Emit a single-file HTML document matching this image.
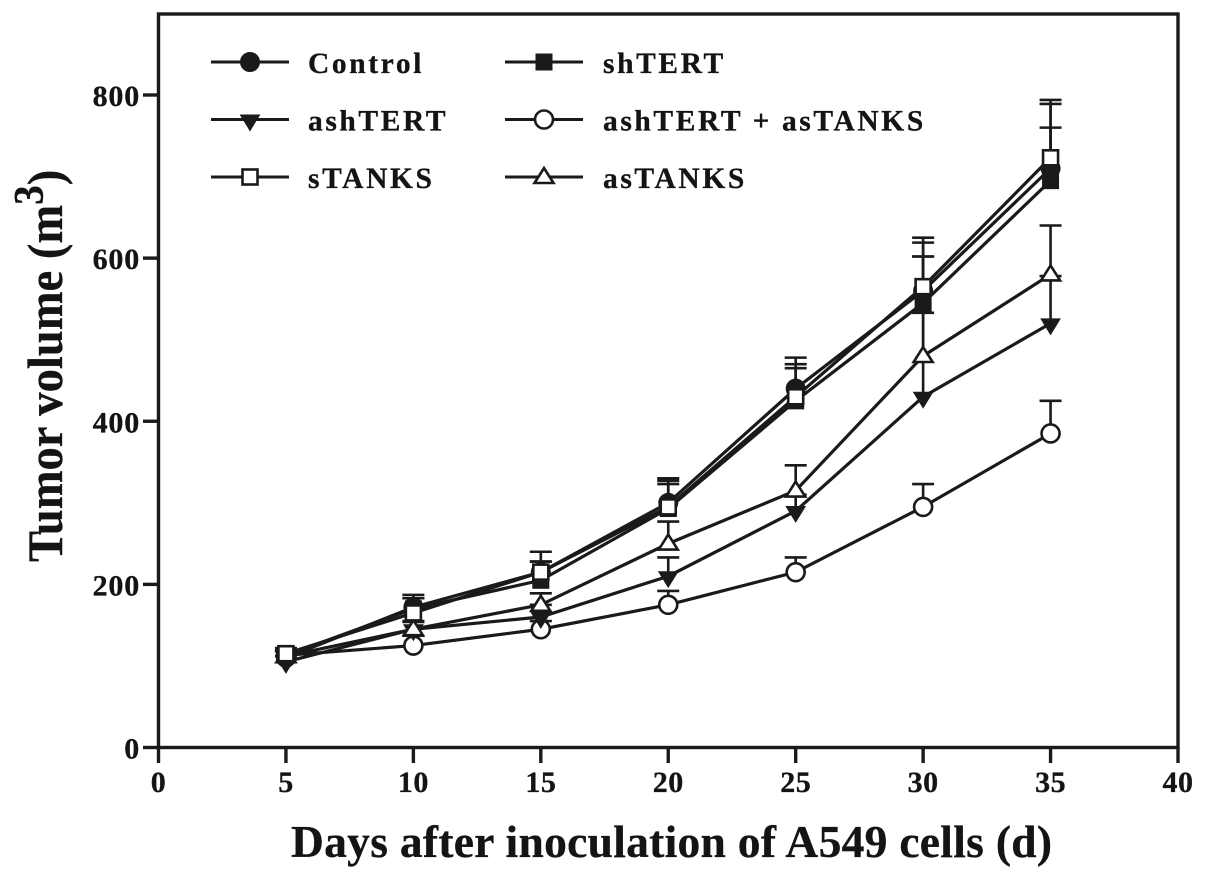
<!DOCTYPE html>
<html>
<head>
<meta charset="utf-8">
<title>Tumor volume chart</title>
<style>
html,body{margin:0;padding:0;background:#fff;}
svg{display:block;}
text{font-family:"Liberation Serif",serif;font-weight:bold;fill:#141414;stroke:#141414;stroke-width:0.3px;}
</style>
</head>
<body>
<svg id="chart" width="1205" height="879" viewBox="0 0 1205 879" xmlns="http://www.w3.org/2000/svg">
  <text transform="translate(62,562) rotate(-90) scale(0.932,1)" font-size="50">Tumor volume (m<tspan font-size="42" dy="-19">3</tspan><tspan dy="19">)</tspan></text>
  <text x="291" y="857" font-size="45.5" textLength="761" lengthAdjust="spacing">Days after inoculation of A549 cells (d)</text>
</svg>
<script>
const days = [5, 10, 15, 20, 25, 30, 35];
const xTicks = [0, 5, 10, 15, 20, 25, 30, 35, 40];
const yTicks = [0, 200, 400, 600, 800];

const controlValues = [110, 172, 215, 300, 440, 560, 710];
const controlUpper = [118, 187, 240, 330, 478, 625, 794];
const shTertValues = [113, 170, 205, 293, 425, 545, 695];
const shTertUpper = [120, 183, 228, 323, 465, 602, 760];
const ashTertValues = [105, 145, 160, 210, 290, 430, 520];
const ashTertUpper = [112, 155, 175, 233, 310, 533, 578];
const comboValues = [113, 125, 145, 175, 215, 295, 385];
const comboUpper = [118, 137, 155, 192, 233, 323, 425];
const sTanksValues = [115, 165, 215, 295, 430, 565, 723];
const sTanksUpper = [122, 183, 228, 327, 470, 619, 789];
const asTanksValues = [112, 145, 175, 250, 315, 480, 580];
const asTanksUpper = [118, 154, 189, 277, 346, 602, 640];

const INK = '#1a1a1a';
const NS = 'http://www.w3.org/2000/svg';
const svg = document.getElementById('chart');

function xScale(v) { return 158.5 + v * (1178 - 158.5) / 40; }
function yScale(v) { return 747.5 - v * (747.5 - 95) / 800; }

function add(parent, tag, attrs) {
  const el = document.createElementNS(NS, tag);
  for (const k in attrs) el.setAttribute(k, attrs[k]);
  parent.appendChild(el);
  return el;
}

function marker(group, kind, cx, cy) {
  const open = kind === 'open-circle' || kind === 'open-square' || kind === 'open-triangle';
  const style = { fill: open ? '#fff' : INK, stroke: INK, 'stroke-width': open ? 2.6 : 1 };
  let m;
  if (kind === 'filled-circle') {
    m = add(group, 'circle', Object.assign({ cx: cx, cy: cy, r: 9.5 }, style));
  } else if (kind === 'open-circle') {
    m = add(group, 'circle', Object.assign({ cx: cx, cy: cy, r: 9 }, style));
  } else if (kind === 'filled-square') {
    m = add(group, 'rect', Object.assign({ x: cx - 8, y: cy - 8, width: 16, height: 16 }, style));
  } else if (kind === 'open-square') {
    m = add(group, 'rect', Object.assign({ x: cx - 7.5, y: cy - 7.5, width: 15, height: 15 }, style));
  } else if (kind === 'filled-triangle') {
    m = add(group, 'polygon', Object.assign({ points: (cx - 9.5) + ',' + (cy - 4.5) + ' ' + (cx + 9.5) + ',' + (cy - 4.5) + ' ' + cx + ',' + (cy + 11) }, style));
  } else {
    m = add(group, 'polygon', Object.assign({ points: (cx - 9.5) + ',' + (cy + 6) + ' ' + (cx + 9.5) + ',' + (cy + 6) + ' ' + cx + ',' + (cy - 9) }, style));
  }
  
  
}

/* axes and frame */
const axes = add(svg, 'g', { stroke: INK, 'stroke-width': 3.4, fill: 'none' });



const frame = add(axes, 'rect', { x: xScale(0), y: 14, width: xScale(40) - xScale(0), height: yScale(0) - 14 });



xTicks.forEach(function (t) {
  const tick = add(axes, 'line', { x1: xScale(t), x2: xScale(t), y1: yScale(0), y2: 763 });
  
  
  const label = add(svg, 'text', { x: xScale(t), y: 792, 'font-size': 30, 'text-anchor': 'middle', 'letter-spacing': 0.5 });
  label.textContent = t;
  
  
});

yTicks.forEach(function (t) {
  const tick = add(axes, 'line', { x1: 143, x2: xScale(0), y1: yScale(t), y2: yScale(t) });
  
  
  const label = add(svg, 'text', { x: 140, y: yScale(t) + 11, 'font-size': 30, 'text-anchor': 'end', 'letter-spacing': 0.8 });
  label.textContent = t;
  
  
});

/* series */
function drawSeries(name, kind, values, upper) {
  const g = add(svg, 'g', {});
  
  

  days.forEach(function (d, i) {
    const x = xScale(d);
    const err = add(g, 'line', { x1: x, x2: x, y1: yScale(values[i]), y2: yScale(upper[i]), stroke: INK, 'stroke-width': 2.6 });
    
    
    const cap = add(g, 'line', { x1: x - 11, x2: x + 11, y1: yScale(upper[i]), y2: yScale(upper[i]), stroke: INK, 'stroke-width': 2.6 });
    
    
  });

  const pts = days.map(function (d, i) { return xScale(d) + ',' + yScale(values[i]); }).join(' ');
  const line = add(g, 'polyline', { points: pts, fill: 'none', stroke: INK, 'stroke-width': 3.2 });
  
  

  days.forEach(function (d, i) {
    marker(g, kind, xScale(d), yScale(values[i]));
  });
}

drawSeries('control', 'filled-circle', controlValues, controlUpper);
drawSeries('shtert', 'filled-square', shTertValues, shTertUpper);
drawSeries('ashtert-astanks', 'open-circle', comboValues, comboUpper);
drawSeries('ashtert', 'filled-triangle', ashTertValues, ashTertUpper);
drawSeries('astanks', 'open-triangle', asTanksValues, asTanksUpper);
drawSeries('stanks', 'open-square', sTanksValues, sTanksUpper);

/* legend */
const legendLabels = ['Control', 'shTERT', 'ashTERT', 'ashTERT + asTANKS', 'sTANKS', 'asTANKS'];
const legendKinds = ['filled-circle', 'filled-square', 'filled-triangle', 'open-circle', 'open-square', 'open-triangle'];

const legend = add(svg, 'g', {});



legendLabels.forEach(function (labelText, i) {
  const col = i % 2;
  const row = Math.floor(i / 2);
  const left = col === 0 ? 211 : 505;
  const y = 62 + row * 57.5;
  const entry = add(legend, 'g', {});
  
  
  const ln = add(entry, 'line', { x1: left, x2: left + 78, y1: y, y2: y, stroke: INK, 'stroke-width': 3 });
  
  
  marker(entry, legendKinds[i], left + 39, y);
  const txt = add(entry, 'text', { x: col === 0 ? 308 : 603, y: y + 11, 'font-size': 29.5, 'letter-spacing': 2.6 });
  txt.textContent = labelText;
  
  
});
</script>
</body>
</html>
